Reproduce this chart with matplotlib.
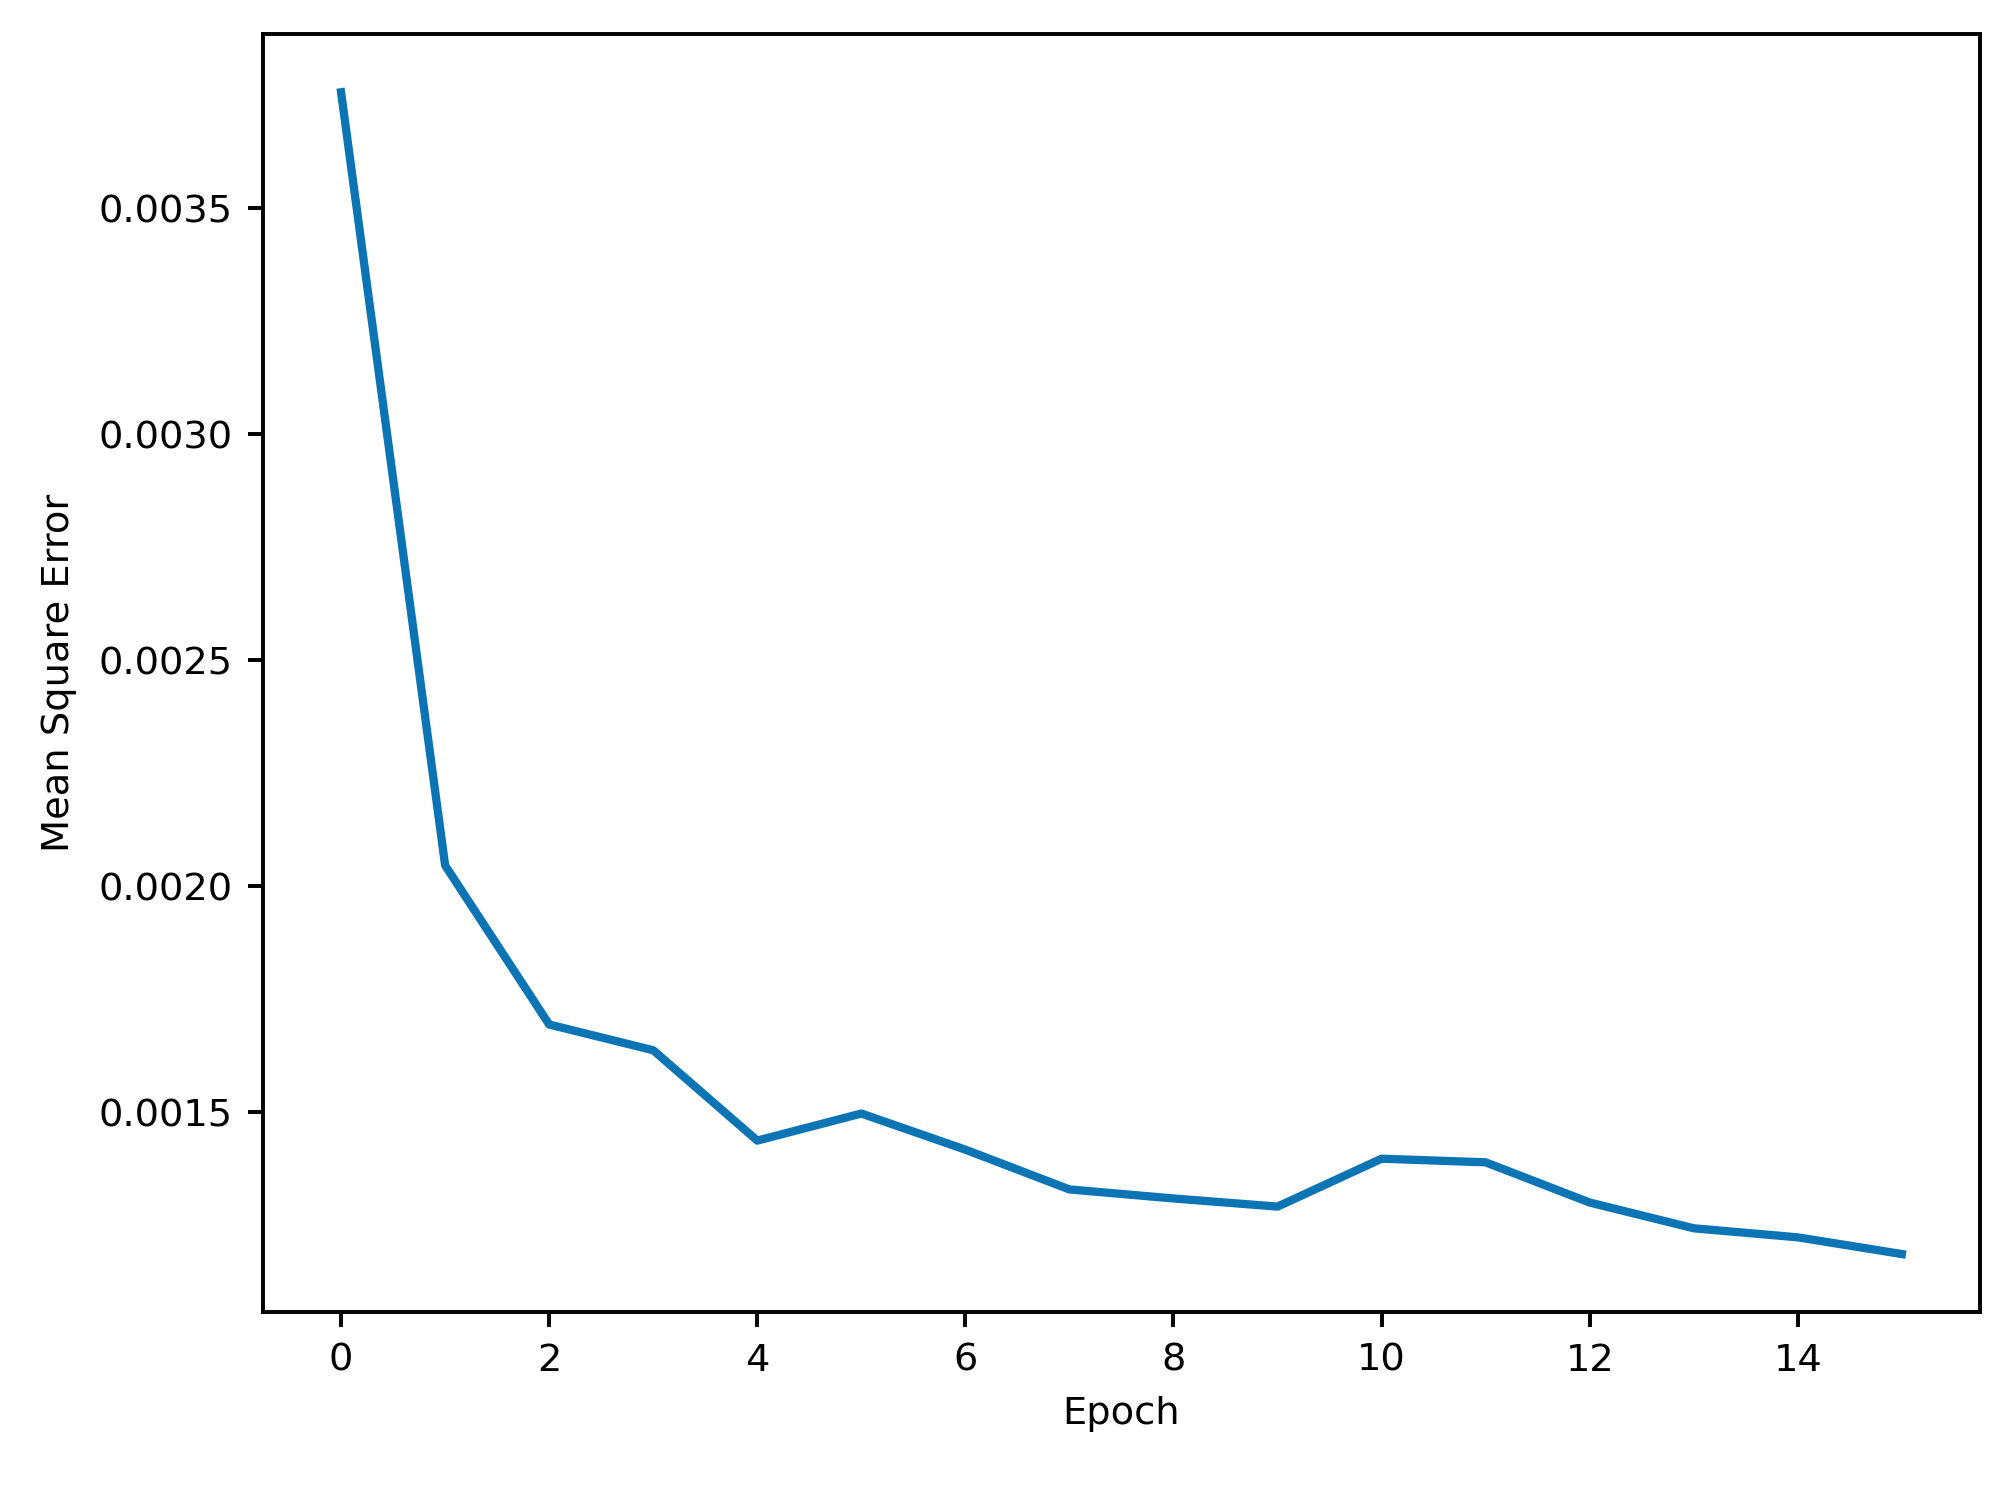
#!/usr/bin/env python3
"""Training curve: mean square error per epoch."""

import matplotlib

matplotlib.use("Agg")
import matplotlib.pyplot as plt

epochs = list(range(16))
mse = [
    0.003757, 0.002046, 0.001694, 0.001637, 0.001437, 0.001497,
    0.001417, 0.001329, 0.001309, 0.001291, 0.001397, 0.001389,
    0.001300, 0.001243, 0.001223, 0.001186,
]

LINE_COLOR = "#0a74b4"
FONT_SIZE = 8.8


def main() -> int:
    dpi = 313.75
    fig = plt.figure(figsize=(2008 / dpi, 1486 / dpi), dpi=dpi)
    ax = fig.add_axes([0.131, 0.117, 0.855, 0.860])
    ax.plot(epochs, mse, color=LINE_COLOR, linewidth=1.9)
    ax.set_xlabel("Epoch", fontsize=FONT_SIZE)
    ax.set_ylabel("Mean Square Error", fontsize=FONT_SIZE, labelpad=5)
    ax.tick_params(labelsize=FONT_SIZE, width=0.9)
    for spine in ax.spines.values():
        spine.set_linewidth(0.9)
    ax.set_xticks(range(0, 16, 2))
    ax.set_yticks([0.0015, 0.0020, 0.0025, 0.0030, 0.0035])
    ax.set_yticklabels(["0.0015", "0.0020", "0.0025", "0.0030", "0.0035"])
    fig.savefig("out.png", dpi=dpi)
    return 0


if __name__ == "__main__":
    raise SystemExit(main())
